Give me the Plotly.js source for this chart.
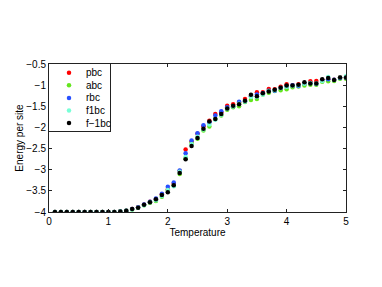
<!DOCTYPE html>
<html>
<head>
<meta charset="utf-8">
<script src="https://cdn.plot.ly/plotly-3.0.1.min.js"></script>
<style>html,body{margin:0;padding:0;background:#fff;}#chart{width:382px;height:287px;}</style>
</head>
<body>
<div id="chart"></div>
<script>
var temperature = [0.1,0.2,0.3,0.4,0.5,0.6,0.7,0.8,0.9,1.0,1.1,1.2,1.3,1.4,1.5,1.6,1.7,1.8,1.9,2.0,2.1,2.2,2.3,2.4,2.5,2.6,2.7,2.8,2.9,3.0,3.1,3.2,3.3,3.4,3.5,3.6,3.7,3.8,3.9,4.0,4.1,4.2,4.3,4.4,4.5,4.6,4.7,4.8,4.9,5.0];

var pbc = [-4,-4,-4,-4,-4,-4,-4,-4,-4,-4,-4.0,-3.99,-3.97,-3.93,-3.89,-3.83,-3.76,-3.69,-3.58,-3.47,-3.33,-3.03,-2.52,-2.33,-2.15,-1.97,-1.84,-1.68,-1.64,-1.49,-1.45,-1.41,-1.33,-1.25,-1.17,-1.17,-1.09,-1.10,-1.04,-0.98,-1.00,-0.98,-0.96,-0.91,-0.90,-0.88,-0.86,-0.87,-0.82,-0.83];
var abc = [-4,-4,-4,-4,-4,-4,-4,-4,-4,-4,-4.0,-3.99,-3.97,-3.94,-3.90,-3.84,-3.78,-3.74,-3.64,-3.50,-3.38,-3.10,-2.73,-2.37,-2.27,-2.07,-1.98,-1.80,-1.72,-1.58,-1.52,-1.50,-1.40,-1.35,-1.33,-1.22,-1.18,-1.14,-1.12,-1.10,-1.05,-1.03,-1.01,-0.99,-0.99,-0.92,-0.91,-0.90,-0.85,-0.85];
var rbc = [-4,-4,-4,-4,-4,-4,-4,-4,-4,-4,-4.0,-3.99,-3.97,-3.93,-3.89,-3.82,-3.76,-3.68,-3.57,-3.40,-3.30,-3.02,-2.61,-2.31,-2.14,-1.95,-1.88,-1.72,-1.62,-1.52,-1.50,-1.39,-1.38,-1.26,-1.22,-1.19,-1.13,-1.13,-1.07,-1.03,-1.00,-1.02,-0.96,-0.95,-0.97,-0.89,-0.86,-0.87,-0.83,-0.82];
var f1bc = [-4,-4,-4,-4,-4,-4,-4,-4,-4,-4,-4.0,-3.99,-3.97,-3.94,-3.90,-3.84,-3.77,-3.72,-3.62,-3.48,-3.39,-3.05,-2.70,-2.40,-2.22,-2.05,-1.93,-1.82,-1.70,-1.56,-1.50,-1.44,-1.38,-1.28,-1.28,-1.22,-1.14,-1.12,-1.07,-1.04,-1.02,-1.00,-0.97,-0.95,-0.96,-0.90,-0.81,-0.88,-0.82,-0.79];
var fm1bc = [-4,-4,-4,-4,-4,-4,-4,-4,-4,-4,-4.0,-3.99,-3.97,-3.93,-3.90,-3.83,-3.77,-3.70,-3.60,-3.53,-3.37,-3.08,-2.75,-2.44,-2.25,-2.03,-1.86,-1.80,-1.68,-1.55,-1.49,-1.45,-1.37,-1.23,-1.26,-1.19,-1.15,-1.11,-1.06,-1.01,-1.01,-0.99,-0.93,-0.96,-0.96,-0.86,-0.83,-0.88,-0.82,-0.82];

var seriesNames = ['pbc','abc','rbc','f1bc','f\u22121bc'];
var seriesValues = [pbc, abc, rbc, f1bc, fm1bc];
var seriesColors = ['rgb(255,0,0)','rgb(100,230,30)','rgb(40,80,255)','rgb(120,255,215)','rgb(0,0,0)'];

var traces = seriesNames.map(function(n,i){
  return {x: temperature, y: seriesValues[i], name: n, type:'scatter', mode:'markers',
    marker:{color: seriesColors[i], size:4.5, symbol:'circle'}, showlegend:false, hoverinfo:'skip'};
});

// Compact MATLAB-style legend drawn on its own small pixel-scaled axis pair
var LEG_W = 61, LEG_H = 67, LEG_TOP = 8.7, LEG_STEP = 12.6, LEG_MX = 20, LEG_TX = 34.5;
var legY = seriesNames.map(function(_,i){ return LEG_TOP + i*LEG_STEP; });
traces.push({x: seriesNames.map(function(){return LEG_MX;}), y: legY, xaxis:'x2', yaxis:'y2',
  type:'scatter', mode:'markers', marker:{color: seriesColors, size:4.5}, showlegend:false, hoverinfo:'skip'});

var annotations = seriesNames.map(function(n,i){
  return {xref:'x2', yref:'y2', x:LEG_TX, y:legY[i], text:n, showarrow:false, xanchor:'left', yanchor:'middle',
    font:{size:10, color:'#000'}};
});

var axisCommon = {showgrid:false, zeroline:false, showline:true, linecolor:'#222', linewidth:1,
  mirror:'ticks', ticks:'inside', ticklen:3, tickcolor:'#222',
  tickfont:{size:10, color:'#000', family:'Liberation Sans, Arial, sans-serif'}};

var plotW = 382-49-36, plotH = 287-64-75;

var layout = {
  width:382, height:287,
  margin:{l:49, r:36, t:64, b:75, pad:0},
  paper_bgcolor:'#fff', plot_bgcolor:'#fff',
  font:{family:'Liberation Sans, Arial, sans-serif', size:10, color:'#000'},
  showlegend:false,
  xaxis: Object.assign({}, axisCommon, {range:[0,5], dtick:1, tick0:0,
    title:{text:'Temperature', font:{size:10}, standoff:0}}),
  yaxis: Object.assign({}, axisCommon, {range:[-4,-0.5], dtick:0.5, tick0:-4,
    title:{text:'Energy per site', font:{size:10}, standoff:0}}),
  xaxis2: {domain:[0, LEG_W/plotW], range:[0, LEG_W], anchor:'y2', showgrid:false, zeroline:false,
    showticklabels:false, ticks:'', showline:true, mirror:true, linecolor:'#222', linewidth:1, fixedrange:true},
  yaxis2: {domain:[1-LEG_H/plotH, 1], range:[LEG_H, 0], anchor:'x2', showgrid:false, zeroline:false,
    showticklabels:false, ticks:'', showline:true, mirror:true, linecolor:'#222', linewidth:1, fixedrange:true},
  annotations: annotations
};

Plotly.newPlot('chart', traces, layout, {displayModeBar:false, staticPlot:true});
</script>
</body>
</html>
